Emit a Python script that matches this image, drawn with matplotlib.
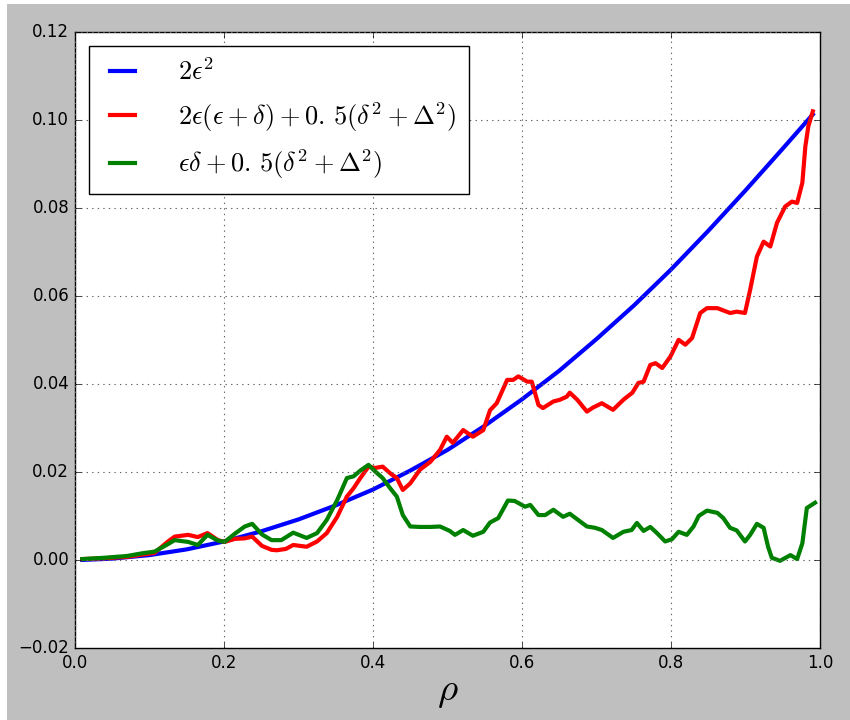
import matplotlib
matplotlib.use("Agg")
import matplotlib.pyplot as plt
from matplotlib.patches import Rectangle

plt.style.use("classic")

rho_blue = [0.01, 0.05, 0.1, 0.15, 0.2, 0.25, 0.3, 0.35, 0.4, 0.45, 0.5, 0.55,
            0.6, 0.65, 0.7, 0.75, 0.8, 0.85, 0.9, 0.95, 0.99]
blue = [0.00001, 0.0003, 0.0011, 0.0024, 0.0042, 0.0065, 0.0092, 0.0124, 0.0160,
        0.0203, 0.0250, 0.0305, 0.0365, 0.0430, 0.0502, 0.0578, 0.0660, 0.0748,
        0.0840, 0.0935, 0.1012]

rho_red = [0.01, 0.04, 0.07, 0.09, 0.107, 0.125, 0.134, 0.152, 0.165, 0.178, 0.192,
           0.201, 0.215, 0.228, 0.238, 0.251, 0.264, 0.271, 0.283, 0.293, 0.311,
           0.325, 0.338, 0.352, 0.365, 0.374, 0.383, 0.394, 0.403, 0.413, 0.423,
           0.432, 0.44, 0.45, 0.463, 0.477, 0.49, 0.499, 0.507, 0.521, 0.534,
           0.548, 0.557, 0.566, 0.58, 0.588, 0.595, 0.607, 0.613, 0.622, 0.628,
           0.642, 0.651, 0.66, 0.664, 0.674, 0.687, 0.695, 0.707, 0.722, 0.736,
           0.748, 0.756, 0.763, 0.772, 0.779, 0.788, 0.799, 0.81, 0.819, 0.828,
           0.839, 0.848, 0.862, 0.879, 0.888, 0.899, 0.906, 0.915, 0.924, 0.933,
           0.942, 0.953, 0.962, 0.969, 0.976, 0.98, 0.984, 0.99]
red = [0.0002, 0.0004, 0.0007, 0.0012, 0.0016, 0.0042, 0.0053, 0.0057, 0.0052,
       0.0061, 0.0045, 0.0041, 0.0048, 0.0049, 0.0053, 0.0032, 0.0023, 0.0022,
       0.0025, 0.0034, 0.0030, 0.0042, 0.0061, 0.0098, 0.0144, 0.0163, 0.0186,
       0.0212, 0.0209, 0.0212, 0.0197, 0.0186, 0.0159, 0.0174, 0.0205, 0.0223,
       0.0250, 0.0280, 0.0266, 0.0295, 0.0280, 0.0295, 0.0340, 0.0356, 0.0409,
       0.0409, 0.0417, 0.0405, 0.0405, 0.0352, 0.0345, 0.0360, 0.0364, 0.0371,
       0.0380, 0.0364, 0.0337, 0.0346, 0.0356, 0.0341, 0.0364, 0.0380, 0.0402,
       0.0405, 0.0443, 0.0447, 0.0436, 0.0462, 0.0500, 0.0489, 0.0504, 0.0561,
       0.0572, 0.0572, 0.0561, 0.0564, 0.0561, 0.0614, 0.0689, 0.0723, 0.0712,
       0.0766, 0.0803, 0.0814, 0.0811, 0.0857, 0.0939, 0.0985, 0.1019]

rho_green = [0.01, 0.04, 0.07, 0.09, 0.107, 0.125, 0.134, 0.152, 0.165, 0.178,
             0.192, 0.201, 0.215, 0.228, 0.238, 0.251, 0.264, 0.277, 0.293, 0.311,
             0.325, 0.338, 0.352, 0.365, 0.374, 0.383, 0.394, 0.403, 0.413, 0.423,
             0.432, 0.44, 0.45, 0.463, 0.477, 0.49, 0.503, 0.51, 0.521, 0.534,
             0.548, 0.557, 0.568, 0.581, 0.59, 0.604, 0.611, 0.622, 0.631, 0.642,
             0.655, 0.664, 0.675, 0.687, 0.698, 0.707, 0.722, 0.736, 0.747, 0.754,
             0.763, 0.772, 0.781, 0.792, 0.801, 0.81, 0.821, 0.83, 0.837, 0.848,
             0.862, 0.87, 0.879, 0.888, 0.899, 0.906, 0.915, 0.924, 0.93, 0.935,
             0.946, 0.96, 0.969, 0.976, 0.982, 0.993]
green = [0.0002, 0.0005, 0.0009, 0.0015, 0.0019, 0.0036, 0.0045, 0.0041, 0.0034,
         0.0057, 0.0044, 0.0041, 0.0060, 0.0076, 0.0082, 0.0058, 0.0045, 0.0045,
         0.0062, 0.0050, 0.0061, 0.0091, 0.0136, 0.0186, 0.0190, 0.0203, 0.0216,
         0.0201, 0.0186, 0.0163, 0.0144, 0.0102, 0.0076, 0.0075, 0.0075, 0.0076,
         0.0066, 0.0057, 0.0068, 0.0055, 0.0064, 0.0085, 0.0095, 0.0135, 0.0134,
         0.0121, 0.0125, 0.0102, 0.0102, 0.0114, 0.0098, 0.0105, 0.0091, 0.0076,
         0.0073, 0.0068, 0.0050, 0.0064, 0.0068, 0.0084, 0.0066, 0.0075, 0.0061,
         0.0042, 0.0047, 0.0064, 0.0057, 0.0076, 0.0100, 0.0112, 0.0107, 0.0095,
         0.0073, 0.0067, 0.0042, 0.0057, 0.0082, 0.0073, 0.0030, 0.0005, -0.0002,
         0.0011, 0.0002, 0.0038, 0.0118, 0.0130]

labels = [r"$2\epsilon^2$",
          r"$2\epsilon(\epsilon+\delta)+0.\,5(\delta^2+\Delta^2)$",
          r"$\epsilon\delta+0.\,5(\delta^2+\Delta^2)$"]

fig = plt.figure(figsize=(8.5, 7.2), dpi=100)
# thin white margins seen at the left and top edges of the reference image
fig.patches.append(Rectangle((0, 0), 7 / 850, 1, transform=fig.transFigure,
                             facecolor="white", edgecolor="none", zorder=-10))
fig.patches.append(Rectangle((0, 1 - 4 / 720), 1, 4 / 720, transform=fig.transFigure,
                             facecolor="white", edgecolor="none", zorder=-10))

ax = fig.add_axes([0.088, 0.1, 0.877, 0.856])
ax.plot(rho_blue, blue, color="b", lw=3, label=labels[0])
ax.plot(rho_red, red, color="r", lw=3, label=labels[1])
ax.plot(rho_green, green, color="g", lw=3, label=labels[2])
ax.set_xlim(0, 1)
ax.set_ylim(-0.02, 0.12)
ax.grid(True, color="0.4", linestyle=":", linewidth=0.8)
ax.set_xlabel(r"$\rho$", fontsize=28, labelpad=0)
ax.legend(loc="upper left", fontsize=19, handlelength=1.55, handletextpad=1.3,
          labelspacing=0.52, borderpad=0.5, borderaxespad=0.55)
fig.savefig("out.png", dpi=100, facecolor=fig.get_facecolor())
